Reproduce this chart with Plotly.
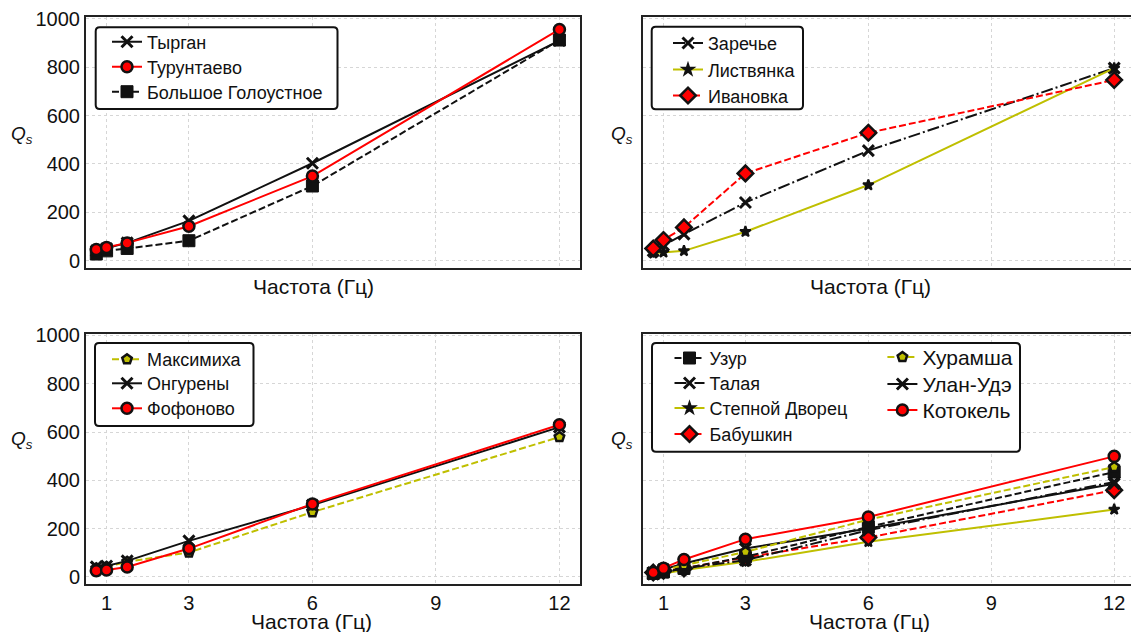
import plotly.graph_objects as go

W, H = 1131, 632
FONT = "Liberation Sans, Arial, sans-serif"
INK = "#111111"
OLIVE = "#bfbf00"
RED = "#ff0000"

# ---------------- data ----------------
freq = [0.75, 1, 1.5, 3, 6, 12]
x_ticks = [1, 3, 6, 9, 12]
y_ticks = [0, 200, 400, 600, 800, 1000]
x_title = "Частота (Гц)"
y_title = "<i>Q<sub>s</sub></i>"

tyrgan = [41, 51, 74, 165, 403, 910]
turuntaevo = [47, 55, 74, 143, 350, 956]
bolshoe_goloustnoe = [28, 41, 51, 83, 309, 912]

zarechye = [41, 65, 110, 241, 455, 796]
listvyanka = [31, 35, 41, 120, 313, 796]
ivanovka = [51, 86, 138, 361, 529, 747]

maksimikha = [35, 41, 62, 101, 268, 579]
ongureny = [41, 45, 66, 149, 297, 620]
fofonovo = [25, 28, 41, 117, 302, 630]

uzur = [14, 21, 35, 83, 207, 434]
talaya = [11, 18, 35, 69, 193, 393]
stepnoy_dvorets = [11, 14, 28, 62, 145, 279]
babushkin = [18, 25, 35, 80, 163, 359]
khuramsha = [18, 28, 48, 103, 237, 455]
ulan_ude = [18, 31, 55, 117, 200, 386]
kotokel = [18, 35, 72, 156, 248, 499]

# ---------------- styles ----------------
DASH = "7px,3px"
DASHDOT = "12px,3px,2px,3px"
STYLES = {
    "x_solid": dict(line=dict(color=INK, width=2),
                    marker=dict(symbol="x-thin", size=11, color=INK, line=dict(color=INK, width=3))),
    "x_dashdot": dict(line=dict(color=INK, width=2, dash=DASHDOT),
                      marker=dict(symbol="x-thin", size=11, color=INK, line=dict(color=INK, width=3))),
    "circle_red": dict(line=dict(color=RED, width=2),
                       marker=dict(symbol="circle", size=11, color=RED, line=dict(color=INK, width=2.5))),
    "square_dash": dict(line=dict(color=INK, width=2, dash=DASH),
                        marker=dict(symbol="square", size=12, color=INK, line=dict(color=INK, width=1))),
    "star_olive": dict(line=dict(color=OLIVE, width=2),
                       marker=dict(symbol="star", size=8, color=INK, line=dict(color=INK, width=2))),
    "diamond_red": dict(line=dict(color=RED, width=2, dash=DASH),
                        marker=dict(symbol="diamond", size=12, color=RED, line=dict(color=INK, width=2.5))),
    "pent_olive": dict(line=dict(color=OLIVE, width=2, dash=DASH),
                       marker=dict(symbol="pentagon", size=10, color=OLIVE, line=dict(color=INK, width=2.5))),
}

# panel, name, values, style, legend-entry (text x px, centre y px, font size)
series = [
    (1, "Большое Голоустное", bolshoe_goloustnoe, "square_dash", (147, 91.7, 18)),
    (1, "Тырган", tyrgan, "x_solid", (147, 41.7, 18)),
    (1, "Турунтаево", turuntaevo, "circle_red", (147, 66.7, 18)),
    (2, "Заречье", zarechye, "x_dashdot", (708, 43.0, 18)),
    (2, "Листвянка", listvyanka, "star_olive", (708, 69.5, 18)),
    (2, "Ивановка", ivanovka, "diamond_red", (708, 95.5, 18)),
    (3, "Максимиха", maksimikha, "pent_olive", (147, 359.3, 18)),
    (3, "Онгурены", ongureny, "x_solid", (147, 383.3, 18)),
    (3, "Фофоново", fofonovo, "circle_red", (147, 408.3, 18)),
    (4, "Степной Дворец", stepnoy_dvorets, "star_olive", (709.5, 408, 18)),
    (4, "Бабушкин", babushkin, "diamond_red", (709.5, 434, 18)),
    (4, "Талая", talaya, "x_dashdot", (709.5, 383, 18)),
    (4, "Узур", uzur, "square_dash", (709.5, 358, 18)),
    (4, "Улан-Удэ", ulan_ude, "x_solid", (922.4, 384, 21)),
    (4, "Хурамша", khuramsha, "pent_olive", (922.4, 357, 21)),
    (4, "Котокель", kotokel, "circle_red", (922.4, 410, 21)),
]

fig = go.Figure()
legends = {}
for i, (panel, name, vals, sty, (tx, ty, fs)) in enumerate(series):
    lid = "legend" if i == 0 else f"legend{i + 1}"
    sfx = "" if panel == 1 else str(panel)
    st = STYLES[sty]
    fig.add_trace(go.Scatter(
        x=freq, y=vals, name=name, mode="lines+markers",
        line=st["line"], marker=st["marker"],
        xaxis="x" + sfx, yaxis="y" + sfx,
        legend=lid, showlegend=True, hoverinfo="skip",
    ))
    h = 1.3 * fs + 3
    legends[lid] = dict(
        x=(tx - 40) / W, y=1 - (ty - 5 - h / 2) / H,
        xanchor="left", yanchor="top", xref="paper", yref="paper",
        bgcolor="rgba(0,0,0,0)", borderwidth=0,
        font=dict(family=FONT, size=fs, color=INK),
    )

# ---------------- axes ----------------
XL = (86 / W, 580 / W)
XR = (643 / W, 1.0)
YT = (1 - 268.3 / H, 1 - 17.3 / H)
YB = (1 - 584.3 / H, 1 - 334 / H)
YR = [-31, 1006]

common = dict(showline=True, linecolor="#222222", linewidth=2, ticks="",
              showgrid=True, gridcolor="#d6d6d6", griddash="dot", gridwidth=1,
              zeroline=False, tickfont=dict(family=FONT, size=20, color=INK))

def xax(dom, rng, labels, anchor):
    return dict(common, domain=dom, range=rng, tickvals=x_ticks, showticklabels=labels,
                mirror=True, anchor=anchor)

def yax(dom, labels, anchor, mirror):
    return dict(common, domain=dom, range=YR, tickvals=y_ticks, showticklabels=labels,
                mirror=mirror, anchor=anchor)

fig.update_layout(
    width=W, height=H,
    margin=dict(l=0, r=0, t=0, b=0, autoexpand=False),
    paper_bgcolor="white", plot_bgcolor="white",
    font=dict(family=FONT, color=INK),
    xaxis=xax(XL, [0.5, 12.5], False, "y"),
    yaxis=yax(YT, True, "x", True),
    xaxis2=xax(XR, [0.5, 12.41], False, "y2"),
    yaxis2=yax(YT, False, "x2", False),
    xaxis3=xax(XL, [0.5, 12.5], True, "y3"),
    yaxis3=yax(YB, True, "x3", True),
    xaxis4=xax(XR, [0.5, 12.41], True, "y4"),
    yaxis4=yax(YB, False, "x4", False),
    **legends,
)

# ---------------- legend frames ----------------
def frame(x0, y0, x1, y1, r=4):
    rx, ry = r / W, r / H
    a0, a1 = x0 / W, x1 / W
    t, b = 1 - y0 / H, 1 - y1 / H
    p = (f"M{a0 + rx},{t} L{a1 - rx},{t} Q{a1},{t} {a1},{t - ry} "
         f"L{a1},{b + ry} Q{a1},{b} {a1 - rx},{b} L{a0 + rx},{b} "
         f"Q{a0},{b} {a0},{b + ry} L{a0},{t - ry} Q{a0},{t} {a0 + rx},{t} Z")
    return dict(type="path", path=p, xref="paper", yref="paper", layer="above",
                fillcolor="white", line=dict(color=INK, width=2))

fig.update_layout(shapes=[
    frame(95.7, 27.3, 337.5, 109),
    frame(651.7, 26.7, 803, 109.3),
    frame(95, 343, 253.5, 426),
    frame(652, 343, 1020, 451.7),
])

# ---------------- titles ----------------
ann = []
for cx, cy in [(314, 286), (870, 286), (311, 621), (869, 621)]:
    ann.append(dict(text=x_title, x=cx / W, y=1 - cy / H, xref="paper", yref="paper",
                    showarrow=False, xanchor="center", yanchor="middle",
                    font=dict(family=FONT, size=21, color=INK)))
for cx, cy in [(22, 135), (622, 135), (22, 440), (622, 440)]:
    ann.append(dict(text=y_title, x=cx / W, y=1 - cy / H, xref="paper", yref="paper",
                    showarrow=False, xanchor="center", yanchor="middle",
                    font=dict(family=FONT, size=19, color=INK)))
fig.update_layout(annotations=ann)

fig.write_html("out.html", config={"displayModeBar": False},
               post_script="document.body.style.margin='0px';document.body.style.overflow='hidden';")
